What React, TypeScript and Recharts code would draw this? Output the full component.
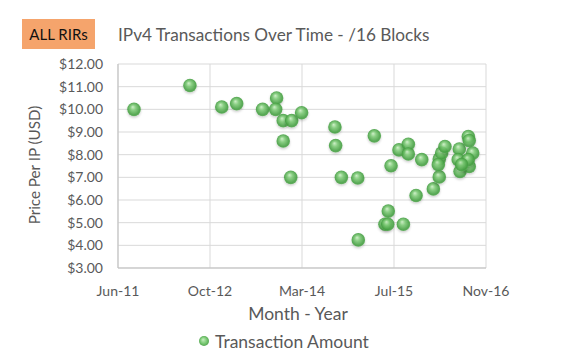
import React from 'react';
import { ScatterChart, Scatter, XAxis, YAxis, CartesianGrid } from 'recharts';

// Excel serial dates for each transaction
const dates = [
  40787, 41091, 41264, 41345, 41486, 41562, 41557, 41598, 41644, 41698,
  41598, 41639, 41879, 41883, 41914, 42093, 42003, 42227, 42278, 42278,
  42184, 42351, 42169, 42151, 42166, 42251, 42006, 42320, 42414, 42446,
  42446, 42459, 42477, 42441, 42555, 42604, 42609, 42628, 42549, 42559,
  42595, 42609, 42604, 42568,
];
const prices = [
  10.0, 11.05, 10.1, 10.25, 10.0, 10.5, 10.0, 9.5, 9.5, 9.85,
  8.6, 7.0, 9.22, 8.4, 7.0, 8.83, 6.97, 8.21, 8.46, 8.03,
  7.51, 7.78, 5.51, 4.93, 4.93, 4.93, 4.24, 6.2, 6.49, 7.02,
  7.81, 8.07, 8.36, 7.56, 8.25, 8.8, 8.62, 8.07, 7.78, 7.26,
  7.7, 7.48, 7.78, 7.56,
];
const xTicks = [40700, 41200, 41700, 42200, 42700];
const yTicks = [3, 4, 5, 6, 7, 8, 9, 10, 11, 12];
const months = ['Jan', 'Feb', 'Mar', 'Apr', 'May', 'Jun', 'Jul', 'Aug', 'Sep', 'Oct', 'Nov', 'Dec'];

const data = dates.map((d, i) => ({ x: d, y: prices[i] }));

const fmtDate = (serial: number) => {
  const dt = new Date(Date.UTC(1899, 11, 30) + serial * 86400000);
  return `${months[dt.getUTCMonth()]}-${String(dt.getUTCFullYear()).slice(2)}`;
};

const FONT = 'Lato, "Noto Sans", sans-serif';
const GRAY = '#595959';

const Bubble = (props: any) => {
  const { cx, cy } = props;
  if (cx == null || cy == null) return null;
  return (
    <g>
      <circle cx={cx} cy={cy} r={6.8} fill="url(#bubbleGrad)" fillOpacity={0.88} filter="url(#bubbleShadow)" />
    </g>
  );
};

export default function App() {
  return (
    <div style={{ position: 'absolute', left: 0, top: 0, width: 581, height: 360, background: '#fff', fontFamily: FONT, overflow: 'hidden' }}>
      <div style={{ position: 'absolute', left: 22, top: 19, width: 73, height: 30, background: '#F5A46C', color: '#111', fontSize: 15, lineHeight: '30px', textAlign: 'center' }}>
        ALL RIRs
      </div>
      <div style={{ position: 'absolute', left: 118, top: 22, fontSize: 17.2, color: GRAY, whiteSpace: 'nowrap', lineHeight: '26px' }}>
        IPv4 Transactions Over Time - /16 Blocks
      </div>
      <div style={{ position: 'absolute', left: 0, top: 0 }}>
        <ScatterChart width={581} height={360} margin={{ top: 64, right: 95, bottom: 62, left: 0 }}>
          <defs>
            <radialGradient id="bubbleGrad" cx="50%" cy="50%" r="55%" fx="40%" fy="32%">
              <stop offset="0%" stopColor="#cdf1c6" />
              <stop offset="35%" stopColor="#7fcc78" />
              <stop offset="80%" stopColor="#45a042" />
              <stop offset="100%" stopColor="#5fac5a" />
            </radialGradient>
            <filter id="bubbleShadow" x="-50%" y="-50%" width="200%" height="200%">
              <feDropShadow dx="0" dy="1.5" stdDeviation="1.2" floodColor="#000" floodOpacity="0.22" />
            </filter>
          </defs>
          <CartesianGrid stroke="#d9d9d9" strokeWidth={1} />
          <XAxis
            type="number"
            dataKey="x"
            domain={[40700, 42700]}
            ticks={xTicks}
            tickFormatter={fmtDate}
            tickLine={false}
            tickSize={0}
            tickMargin={18}
            axisLine={{ stroke: '#bfbfbf' }}
            height={30}
            tick={{ fill: GRAY, fontSize: 14, fontFamily: FONT }}
            interval={0}
          />
          <YAxis
            type="number"
            dataKey="y"
            domain={[3, 12]}
            ticks={yTicks}
            tickFormatter={(v: number) => `$${v.toFixed(2)}`}
            tickLine={false}
            tickSize={0}
            tickMargin={15}
            axisLine={{ stroke: '#bfbfbf' }}
            width={118}
            tick={{ fill: GRAY, fontSize: 14, fontFamily: FONT }}
            interval={0}
          />
          <Scatter data={data} shape={Bubble} isAnimationActive={false} />
        </ScatterChart>
      </div>
      <div style={{ position: 'absolute', left: 34, top: 165, width: 0, height: 0 }}>
        <div style={{ position: 'absolute', transform: 'translate(-50%, -50%) rotate(-90deg)', fontSize: 15.2, color: GRAY, whiteSpace: 'nowrap' }}>
          Price Per IP (USD)
        </div>
      </div>
      <div style={{ position: 'absolute', left: 298, top: 313, width: 0, height: 0 }}>
        <div style={{ position: 'absolute', transform: 'translate(-50%, -50%)', fontSize: 17.5, color: GRAY, whiteSpace: 'nowrap' }}>
          Month - Year
        </div>
      </div>
      <div style={{ position: 'absolute', left: 197, top: 331, display: 'flex', alignItems: 'center', height: 20 }}>
        <svg width={14} height={14} style={{ marginRight: 4 }}>
          <defs>
            <radialGradient id="legendGrad" cx="50%" cy="50%" r="55%" fx="40%" fy="35%">
              <stop offset="0%" stopColor="#c7efc0" />
              <stop offset="60%" stopColor="#78c872" />
              <stop offset="100%" stopColor="#4e9f4b" />
            </radialGradient>
          </defs>
          <circle cx={7} cy={7} r={5} fill="url(#legendGrad)" />
        </svg>
        <span style={{ fontSize: 17.5, color: GRAY, whiteSpace: 'nowrap' }}>Transaction Amount</span>
      </div>
    </div>
  );
}
